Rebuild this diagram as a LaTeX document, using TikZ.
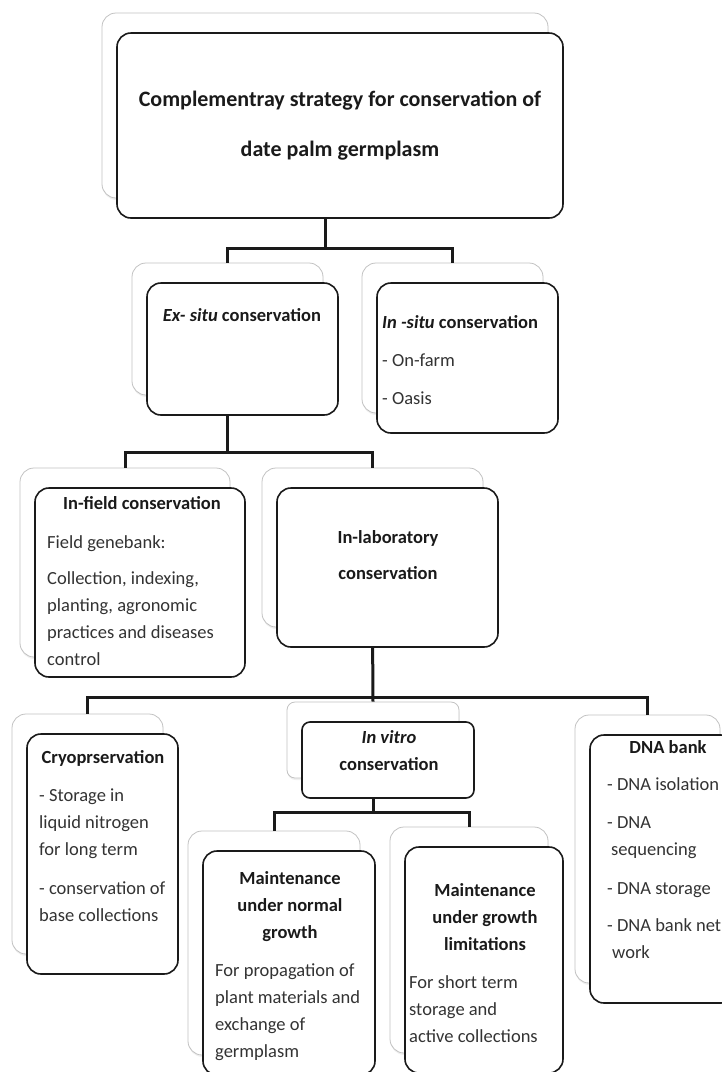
\documentclass[tikz,border=0pt]{standalone}
\usepackage{fontspec}
\setmainfont{Carlito}
\usetikzlibrary{calc, positioning, shadows}
\definecolor{ink}{HTML}{1A1A1A}
\definecolor{inkl}{HTML}{333333}
\definecolor{rim}{HTML}{C2C2C2}
\tikzset{
  back/.style={draw=rim, line width=0.8pt, fill=white, rounded corners=14pt, inner sep=0pt,
    drop shadow={shadow xshift=0.5pt, shadow yshift=-2pt, opacity=0.12}},
  card/.style={draw=ink, line width=1.6pt, fill=white, rounded corners=14pt, inner sep=0pt},
  link/.style={draw=ink, line width=3pt},
  head/.style={inner sep=0pt, text=ink, align=center, font=\bfseries\fontsize{18.5}{27}\selectfont},
  body/.style={inner sep=0pt, text=inkl, align=left, font=\fontsize{18.5}{27}\selectfont}
}

\begin{document}
\begin{tikzpicture}[x=1pt, y=-1pt]
  \useasboundingbox (0,0) rectangle (722,1072);
  \node[back, minimum width=446, minimum height=185] (top) at (325,105.5) {};
  \node[back, minimum width=191, minimum height=132] (exsitu) at (227.5,329) {};
  \node[back, minimum width=181, minimum height=150] (insitu) at (452.5,338) {};
  \node[back, minimum width=210, minimum height=189] (infield) at (125,562.5) {};
  \node[back, minimum width=221, minimum height=159] (inlab) at (372.5,547.5) {};
  \node[back, minimum width=151, minimum height=240] (cryo) at (87.5,834) {};
  \node[back, minimum width=172, minimum height=76, rounded corners=8pt] (invitro) at (373,740) {};
  \node[back, minimum width=145, minimum height=268] (dnabank) at (647.5,849) {};
  \node[back, minimum width=172, minimum height=224] (normal) at (274,943) {};
  \node[back, minimum width=158, minimum height=226] (limited) at (469,940) {};

  \draw[link] (top.south) -- ++(0,50) coordinate (bus1);
  \draw[link] (exsitu.north) |- (bus1) -| (insitu.north);
  \draw[link] (exsitu.south) -- ++(0,57) coordinate (bus2);
  \draw[link] (infield.north) |- (bus2) -| (inlab.north);
  \draw[link] (inlab.south) -- (invitro.north);
  \path (inlab.south) ++(0,70) coordinate (bus3);
  \draw[link] (cryo.north) |- (bus3) -| (dnabank.north);
  \draw[link] (invitro.south) -- ++(0,34) coordinate (bus4);
  \draw[link] (normal.north) |- (bus4) -| (limited.north);

  \node[card, minimum width=446, minimum height=185] (top-f) at ([shift={(15,20)}]top.center) {};
  \node[card, minimum width=191, minimum height=132] (exsitu-f) at ([shift={(15,20)}]exsitu.center) {};
  \node[card, minimum width=181, minimum height=150] (insitu-f) at ([shift={(15,20)}]insitu.center) {};
  \node[card, minimum width=210, minimum height=189] (infield-f) at ([shift={(15,20)}]infield.center) {};
  \node[card, minimum width=221, minimum height=159] (inlab-f) at ([shift={(15,20)}]inlab.center) {};
  \node[card, minimum width=151, minimum height=240] (cryo-f) at ([shift={(15,20)}]cryo.center) {};
  \node[card, minimum width=172, minimum height=76, rounded corners=8pt] (invitro-f) at ([shift={(15,20)}]invitro.center) {};
  \node[card, minimum width=145, minimum height=268] (dnabank-f) at ([shift={(15,20)}]dnabank.center) {};
  \node[card, minimum width=172, minimum height=224] (normal-f) at ([shift={(15,20)}]normal.center) {};
  \node[card, minimum width=158, minimum height=226] (limited-f) at ([shift={(15,20)}]limited.center) {};

  \node[head, font=\bfseries\fontsize{22}{50}\selectfont] (top-t) at (top-f) {Complementray strategy for conservation of\\date palm germplasm};
  \node[head, anchor=north] (exsitu-t) at (242,308.5) {\textit{Ex- situ} conservation};
  \node[body, anchor=north west] (insitu-t) at (382,315.5) {\textcolor{ink}{\bfseries\textit{In -situ} conservation}\\[11pt]- On-farm\\[11pt]- Oasis};
  \node[head, anchor=north] (infield-h) at (142,496.5) {In-field conservation};
  \node[body, anchor=north west] (infield-b) at (47,535.5) {Field genebank:\\[9pt]Collection, indexing,\\planting, agronomic\\practices and diseases\\control};
  \node[head, anchor=north] (inlab-t) at (388,530.5) {In-laboratory\\[9pt]conservation};
  \node[head, anchor=north] (cryo-h) at (103,750.5) {Cryoprservation};
  \node[body, anchor=north west] (cryo-b) at (39,788.5) {- Storage in\\liquid nitrogen\\for long term\\[12pt]- conservation of\\base collections};
  \node[head, anchor=north] (invitro-t) at (389,730.5) {\textit{In vitro}\\conservation};
  \node[head, anchor=north] (dnabank-h) at (668,740.5) {DNA bank};
  \node[body, anchor=north west] (dnabank-b) at (607,777.5) {- DNA isolation\\[11pt]- DNA\\\hspace*{4pt}sequencing\\[12pt]- DNA storage\\[10pt]- DNA bank net\\\hspace*{5pt}work};
  \node[head, anchor=north] (normal-h) at (290,871.5) {Maintenance\\under normal\\growth};
  \node[body, anchor=north west] (normal-b) at (215,963.5) {For propagation of\\plant materials and\\exchange of\\germplasm};
  \node[head, anchor=north] (limited-h) at (485,883.5) {Maintenance\\under growth\\limitations};
  \node[body, anchor=north west] (limited-b) at (409,975.5) {For short term\\storage and\\active collections};
\end{tikzpicture}
\end{document}
